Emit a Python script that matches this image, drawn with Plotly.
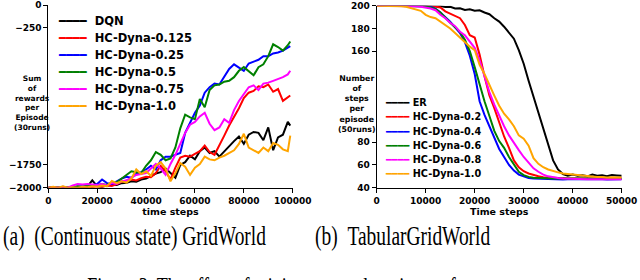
import plotly.graph_objects as go

# ---------------- data: panel (a) ----------------
STEPS_A = list(range(0, 100000, 2000)) + [99000]
DQN = [-2000, -1995, -2000, -1995, -2000, -1995, -1990, -1995, -1985, -1920,
       -1985, -1990, -1975, -1965, -1970, -1950, -1945, -1930, -1935, -1910,
       -1900, -1870, -1845, -1830, -1790, -1840, -1890, -1750, -1720, -1650,
       -1690, -1600, -1560, -1620, -1600, -1660, -1600, -1540, -1490, -1440,
       -1520, -1420, -1390, -1400, -1480, -1340, -1590, -1450, -1420, -1280, -1320]
HC_0125 = [-2000, -2000, -1995, -2000, -1995, -2000, -1995, -2000, -1990, -1995,
           -1985, -1990, -1975, -1980, -1960, -1935, -1920, -1910, -1920, -1895,
           -1880, -1885, -1840, -1760, -1820, -1910, -1780, -1670, -1650, -1660,
           -1630, -1600, -1540, -1610, -1640, -1540, -1430, -1320, -1230, -1130,
           -1020, -960, -940, -890, -900, -870, -950, -920, -1050, -1010, -990]
HC_025 = [-2000, -1995, -2000, -1990, -2000, -1995, -1990, -1985, -1990, -1975,
          -1960, -1910, -1950, -1960, -1930, -1900, -1880, -1890, -1850, -1830,
          -1800, -1760, -1800, -1700, -1660, -1660, -1640, -1620, -1400, -1280,
          -1180, -1100, -960, -900, -860, -870, -790, -700, -650, -690,
          -720, -640, -620, -600, -560, -560, -530, -520, -500, -470, -450]
HC_05 = [-2000, -1995, -2000, -1995, -2000, -1990, -1985, -1990, -1980, -1985,
         -1975, -1960, -1970, -1945, -1940, -1900, -1870, -1820, -1830, -1840,
         -1760, -1700, -1610, -1640, -1700, -1680, -1560, -1350, -1200, -1230,
         -1250, -1030, -1120, -930, -880, -870, -840, -830, -790, -720,
         -680, -720, -770, -680, -650, -560, -430, -460, -500, -440, -400]
HC_075 = [-2000, -1995, -2000, -1995, -2000, -1975, -1960, -1965, -1960, -1965,
          -1970, -1960, -1975, -1950, -1960, -1930, -1920, -1890, -1860, -1850,
          -1840, -1790, -1740, -1790, -1860, -1740, -1640, -1520, -1400, -1310,
          -1280, -1220, -1180, -1300, -1370, -1340, -1250, -1290, -1150, -1050,
          -980, -900, -880, -930, -860, -850, -830, -810, -790, -760, -720]
HC_10 = [-2000, -1990, -2000, -1985, -2000, -1995, -2000, -1990, -1995, -1985,
         -1990, -1975, -1985, -1925, -1950, -1930, -1945, -1900, -1800, -1850,
         -1820, -1870, -1760, -1720, -1790, -1930, -1840, -1730, -1770, -1860,
         -1780, -1740, -1660, -1690, -1700, -1670, -1650, -1620, -1590, -1520,
         -1410, -1560, -1590, -1620, -1560, -1600, -1510, -1530, -1580, -1600, -1430]
NAMES_A = ["DQN", "HC-Dyna-0.125", "HC-Dyna-0.25", "HC-Dyna-0.5", "HC-Dyna-0.75", "HC-Dyna-1.0"]
SERIES_A = [DQN, HC_0125, HC_025, HC_05, HC_075, HC_10]
XTICKS_A = [0, 20000, 40000, 60000, 80000, 100000]
YTICKS_A = [0, -250, -1750, -2000]

# ---------------- data: panel (b) ----------------
STEPS_B = list(range(0, 51000, 1000))
ER = [200, 200, 200, 200, 200, 200, 200, 200, 200, 200, 200,
      199.8, 199.5, 199.7, 198.8, 199.0, 197.5, 197.8, 196.2, 196.8, 195.5,
      196.0, 194.0, 192.5, 189.0, 186.0, 181.5, 176.0, 171.0, 161.0, 149.0,
      134.0, 120.0, 104.0, 90.0, 76.0, 64.0, 56.0, 52.0, 50.5, 51.5,
      50.5, 51.0, 50.0, 51.5, 50.5, 51.0, 50.0, 51.2, 50.8, 50.5]
HC_02 = [200, 200, 200, 200, 200, 200, 200, 200, 200, 200, 199.8,
         199.5, 199.0, 198.5, 195.0, 193.0, 191.0, 189.0, 183.0, 174.0, 172.0,
         157.0, 138.0, 121.0, 110.0, 97.0, 85.0, 75.0, 64.0, 58.0, 54.5,
         52.5, 51.0, 50.0, 49.2, 48.8, 48.5, 48.3, 48.2, 48.0, 48.0,
         47.8, 48.0, 47.9, 48.0, 47.8, 47.9, 48.0, 47.8, 47.9, 48.0]
HC_04 = [200, 200, 200, 200, 200, 200, 200, 200, 200, 199.8, 199.5,
         199.0, 197.5, 194.0, 190.0, 186.0, 181.0, 176.0, 168.0, 156.0, 140.0,
         116.0, 104.0, 94.0, 84.0, 74.0, 67.0, 60.0, 55.0, 51.5, 50.0,
         48.5, 48.0, 47.8, 47.5, 47.5, 47.4, 47.5, 47.3, 47.4, 47.5,
         47.3, 47.4, 47.5, 47.3, 47.4, 47.5, 47.3, 47.4, 47.5, 47.4]
HC_06 = [200, 200, 200, 200, 200, 200, 200, 200, 200, 199.8, 199.5,
         198.5, 197.0, 194.0, 189.0, 185.0, 181.0, 177.0, 170.0, 160.0, 146.0,
         130.0, 116.0, 103.0, 90.0, 81.0, 75.0, 67.0, 60.0, 54.0, 51.0,
         49.5, 48.8, 48.5, 48.2, 48.0, 48.1, 48.0, 47.9, 48.0, 48.1,
         48.0, 47.9, 48.0, 48.1, 48.0, 47.9, 48.0, 48.0, 47.9, 48.0]
HC_08 = [200, 200, 200, 200, 200, 200, 200, 200, 199.5, 199.0, 198.5,
         197.5, 196.0, 192.0, 189.0, 185.0, 182.0, 177.0, 174.0, 169.0, 163.0,
         152.0, 137.0, 124.0, 113.0, 103.0, 94.0, 86.0, 79.0, 73.0, 67.0,
         62.0, 57.0, 54.0, 51.5, 50.0, 49.0, 48.5, 48.0, 47.8, 47.6,
         47.5, 47.6, 47.4, 47.5, 47.6, 47.4, 47.5, 47.6, 47.5, 47.5]
HC_10B = [200, 200, 200, 200, 200, 199.5, 199.0, 198.0, 197.0, 195.5, 192.0,
          190.0, 189.0, 186.0, 183.0, 180.0, 176.0, 172.0, 168.0, 164.0, 161.0,
          148.0, 140.0, 130.0, 121.0, 112.0, 105.0, 100.0, 94.0, 86.0, 83.0,
          77.0, 66.0, 61.0, 58.0, 56.0, 54.5, 53.5, 52.5, 52.0, 51.5,
          51.0, 50.5, 50.0, 50.0, 49.5, 49.5, 49.0, 49.2, 49.0, 49.0]
NAMES_B = ["ER", "HC-Dyna-0.2", "HC-Dyna-0.4", "HC-Dyna-0.6", "HC-Dyna-0.8", "HC-Dyna-1.0"]
SERIES_B = [ER, HC_02, HC_04, HC_06, HC_08, HC_10B]
XTICKS_B = [0, 10000, 20000, 30000, 40000, 50000]
YTICKS_B = [40, 60, 80, 160, 180, 200]

COLORS = ["#000000", "#ff0000", "#0000ff", "#008000", "#ff00ff", "#ffa500"]

W, H = 640, 280
BOLD = dict(family="DejaVu Sans", weight="bold", color="black")


def px(xp):
    return xp / W


def py(yp):
    return 1 - yp / H


fig = go.Figure()
for name, ys, col in zip(NAMES_A, SERIES_A, COLORS):
    fig.add_trace(go.Scatter(x=STEPS_A, y=ys, mode="lines", name=name,
                             line=dict(color=col, width=2), xaxis="x", yaxis="y",
                             showlegend=False))
for name, ys, col in zip(NAMES_B, SERIES_B, COLORS):
    fig.add_trace(go.Scatter(x=STEPS_B, y=ys, mode="lines", name=name,
                             line=dict(color=col, width=2), xaxis="x2", yaxis="y2",
                             showlegend=False))

axis_common = dict(showline=True, linecolor="black", linewidth=1, ticks="outside",
                   ticklen=4, tickwidth=1, tickcolor="black", showgrid=False,
                   zeroline=False, automargin=False,
                   tickfont=dict(size=9, **BOLD))


def fmt(v):
    return str(v).replace("-", "\u2212")


fig.update_layout(
    width=W, height=H, margin=dict(l=0, r=0, t=0, b=0),
    paper_bgcolor="white", plot_bgcolor="white", showlegend=False,
    xaxis=dict(domain=[px(48.3), px(292.7)], range=[0, 100000], anchor="y",
               tickvals=XTICKS_A, ticktext=[fmt(v) for v in XTICKS_A],
               title=dict(text="time steps", font=dict(size=9.5, **BOLD), standoff=3),
               **axis_common),
    yaxis=dict(domain=[py(187.7), py(5)], range=[-2000, 0], anchor="x",
               tickvals=YTICKS_A, ticktext=[fmt(v) for v in YTICKS_A], **axis_common),
    xaxis2=dict(domain=[px(376.7), px(621.7)], range=[0, 50000], anchor="y2",
                tickvals=XTICKS_B, ticktext=[fmt(v) for v in XTICKS_B],
                title=dict(text="Time steps", font=dict(size=9.5, **BOLD), standoff=3),
                **axis_common),
    yaxis2=dict(domain=[py(187.7), py(5.7)], range=[40, 200], anchor="x2",
                tickvals=YTICKS_B, ticktext=[fmt(v) for v in YTICKS_B], **axis_common),
)

ann = []
# y-axis labels
ann.append(dict(text="Sum<br>of<br>rewards<br>per<br>Episode<br>(30runs)",
                x=px(32), y=py(103), xref="paper", yref="paper", showarrow=False,
                xanchor="center", yanchor="middle", align="center",
                font=dict(size=7.5, **BOLD)))
ann.append(dict(text="Number<br>of<br>steps<br>per<br>episode<br>(50runs)",
                x=px(356.5), y=py(104), xref="paper", yref="paper", showarrow=False,
                xanchor="center", yanchor="middle", align="center",
                font=dict(size=7.8, **BOLD)))

# legends (text rows with coloured key glyphs)
for i, (name, col) in enumerate(zip(NAMES_A, COLORS)):
    ann.append(dict(text=f"<span style='color:{col}'>\u2501\u2501\u2501\u2501</span>\u00a0\u00a0{name}",
                    x=px(56), y=py(20.7 + 17 * i), xref="paper", yref="paper",
                    showarrow=False, xanchor="left", yanchor="middle",
                    font=dict(size=11.5, **BOLD)))
for i, (name, col) in enumerate(zip(NAMES_B, COLORS)):
    ann.append(dict(text=f"<span style='color:{col}'>\u2501\u2501\u2501\u2501</span>\u00a0{name}",
                    x=px(383), y=py(102.7 + 14.2 * i), xref="paper", yref="paper",
                    showarrow=False, xanchor="left", yanchor="middle",
                    font=dict(size=9.7, **BOLD)))

# captions (serif, horizontally condensed like the source page)
SERIF = dict(family="Liberation Serif", color="black")
ann.append(dict(text="(a)\u00a0\u00a0(Continuous state) GridWorld", x=px(1), y=py(236),
                xref="paper", yref="paper", showarrow=False, xanchor="left",
                yanchor="middle", font=dict(size=27, **SERIF)))
ann.append(dict(text="(b)\u00a0\u00a0TabularGridWorld", x=px(313), y=py(236),
                xref="paper", yref="paper", showarrow=False, xanchor="left",
                yanchor="middle", font=dict(size=27, **SERIF)))
ann.append(dict(text="Figure 3: The effect of mixing rate on learning performance",
                x=px(85), y=py(286), xref="paper", yref="paper", showarrow=False,
                xanchor="left", yanchor="middle", font=dict(size=25, **SERIF)))

fig.update_layout(annotations=ann)

POST = """
document.documentElement.style.margin = '0';
document.body.style.margin = '0';
document.body.style.padding = '0';
var gd = document.getElementById('{plot_id}');
function squeeze() {
  gd.querySelectorAll('text.annotation-text').forEach(function (t) {
    var s = t.getAttribute('data-unformatted') || '';
    if (s.indexOf('GridWorld') >= 0 || s.indexOf('Figure 3') >= 0) {
      t.style.transformBox = 'fill-box';
      t.style.transformOrigin = '0% 50%';
      t.style.transform = 'scaleX(0.72)';
    }
  });
}
squeeze();
if (gd.on) { gd.on('plotly_afterplot', squeeze); }
"""

fig.write_html("out.html", post_script=POST, config={"displayModeBar": False})
